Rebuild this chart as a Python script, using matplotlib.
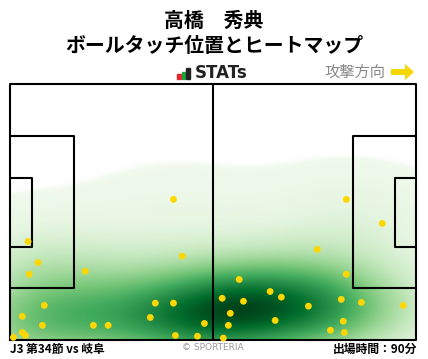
import numpy as np
import matplotlib
matplotlib.use("Agg")
import matplotlib.pyplot as plt
from matplotlib.patches import Rectangle, FancyArrow

plt.rcParams['font.family'] = ['Noto Sans CJK JP', 'DejaVu Sans']

# ---- data (pitch coords: x 0..105 attack to right, y 0..68 from bottom) ----
touch_x = [42.2, 4.6, 7.2, 4.9, 19.4, 44.5, 8.8, 3.1, 8.3, 3.1, 3.9, 0.8, 21.5, 25.3,
           37.5, 42.2, 36.2, 50.2, 42.7, 48.4,
           86.9, 96.2, 79.4, 86.9, 59.2, 67.2, 70.1, 54.8, 60.3, 85.6, 90.8, 77.1,
           101.6, 56.9, 68.5, 56.4, 86.1, 82.8, 86.4, 55.1]
touch_y = [37.4, 26.2, 20.6, 17.5, 18.3, 22.3, 9.2, 6.3, 3.9, 2.0, 1.2, 0.7, 3.9, 3.9,
           9.8, 9.8, 6.0, 4.4, 1.2, 1.0,
           37.4, 31.0, 24.1, 17.5, 16.1, 12.9, 11.4, 11.1, 10.3, 10.8, 10.0, 9.0,
           9.2, 7.1, 5.2, 3.9, 5.0, 2.6, 2.0, 0.5]

player = "高橋　秀典"
subtitle = "ボールタッチ位置とヒートマップ"
match_label = "J3 第34節 vs 岐阜"
minutes_label = "出場時間：90分"

L, W = 105.0, 68.0

fig = plt.figure(figsize=(4.28, 3.59), dpi=100)
fig.patch.set_facecolor('white')
ax = fig.add_axes([10.3/428, 19/359, 406/428, 255.7/359])
ax.set_xlim(0, L)
ax.set_ylim(0, W)
ax.axis('off')

# ---- heatmap (gaussian KDE from touches) ----
tx = np.array(touch_x); ty = np.array(touch_y)
gx = np.linspace(0, L, 420); gy = np.linspace(0, W, 270)
GX, GY = np.meshgrid(gx, gy)
bx, by = 17.0, 9.0
Z = np.zeros_like(GX)
for x0, y0 in zip(tx, ty):
    Z += np.exp(-0.5*((GX-x0)/bx)**2 - 0.5*((GY-y0)/by)**2)
Z /= Z.max()
thresh = 0.04
C = 0.04 + 0.96 * Z**1.45
rgba = plt.get_cmap('Greens')(np.clip(C, 0, 1))
rgba[..., 3] = np.clip((Z - thresh) / 0.012, 0, 1)
ax.imshow(rgba, extent=(0, L, 0, W), origin='lower',
          interpolation='bilinear', aspect='auto', zorder=1)

# ---- pitch lines ----
lw = 1.5
lc = 'black'
ax.plot([0, L, L, 0, 0], [0, 0, W, W, 0], color=lc, lw=lw, zorder=3, clip_on=False)
ax.plot([L/2, L/2], [0, W], color=lc, lw=lw, zorder=3)
pb_d, pb_w = 16.5, 40.32
ga_d, ga_w = 5.5, 18.32
for x_edge, sgn in [(0, 1), (L, -1)]:
    ax.plot([x_edge, x_edge + sgn*pb_d, x_edge + sgn*pb_d, x_edge],
            [W/2 - pb_w/2, W/2 - pb_w/2, W/2 + pb_w/2, W/2 + pb_w/2], color=lc, lw=lw, zorder=3)
    ax.plot([x_edge, x_edge + sgn*ga_d, x_edge + sgn*ga_d, x_edge],
            [W/2 - ga_w/2, W/2 - ga_w/2, W/2 + ga_w/2, W/2 + ga_w/2], color=lc, lw=lw, zorder=3)

# ---- touches ----
ax.scatter(tx, ty, s=24, color='#ffd700', edgecolors='none', zorder=4, clip_on=False)

# ---- titles ----
fig.text(0.5, 1 - 20/359, player, ha='center', va='center', fontsize=14.3, fontweight='bold')
fig.text(0.5, 1 - 46/359, subtitle, ha='center', va='center', fontsize=14.3, fontweight='bold')

# STATs logo
for (x0, h, c) in [(177, 5, '#e8242a'), (181.5, 7, '#1aa23c'), (186, 11, '#222222')]:
    fig.patches.append(Rectangle((x0/428, (359-79)/359), 3.5/428, h/359,
                                 transform=fig.transFigure, color=c))
fig.text(195/428, 1 - 73.5/359, "STATs", ha='left', va='center', fontsize=12,
         fontweight='bold', family='DejaVu Sans', color='#222222')

fig.text(385/428, 1 - 72/359, "攻撃方向", ha='right', va='center', fontsize=11, color='#888888')
fig.patches.append(FancyArrow(391/428, 1 - 72/359, 14/428, 0, width=6/359,
                              head_width=16/359, head_length=9/428,
                              length_includes_head=False, transform=fig.transFigure,
                              color='#f5d800', lw=0))

# ---- footer ----
fig.text(10/428, 1 - 349/359, match_label, ha='left', va='center', fontsize=8.5, fontweight='bold')
fig.text(213/428, 1 - 348/359, "© SPORTERIA", ha='center', va='center', fontsize=6.5, color='#999999',
         family='DejaVu Sans')
fig.text(417/428, 1 - 349/359, minutes_label, ha='right', va='center', fontsize=8.5, fontweight='bold')

fig.savefig('out.png', dpi=100, facecolor='white')
